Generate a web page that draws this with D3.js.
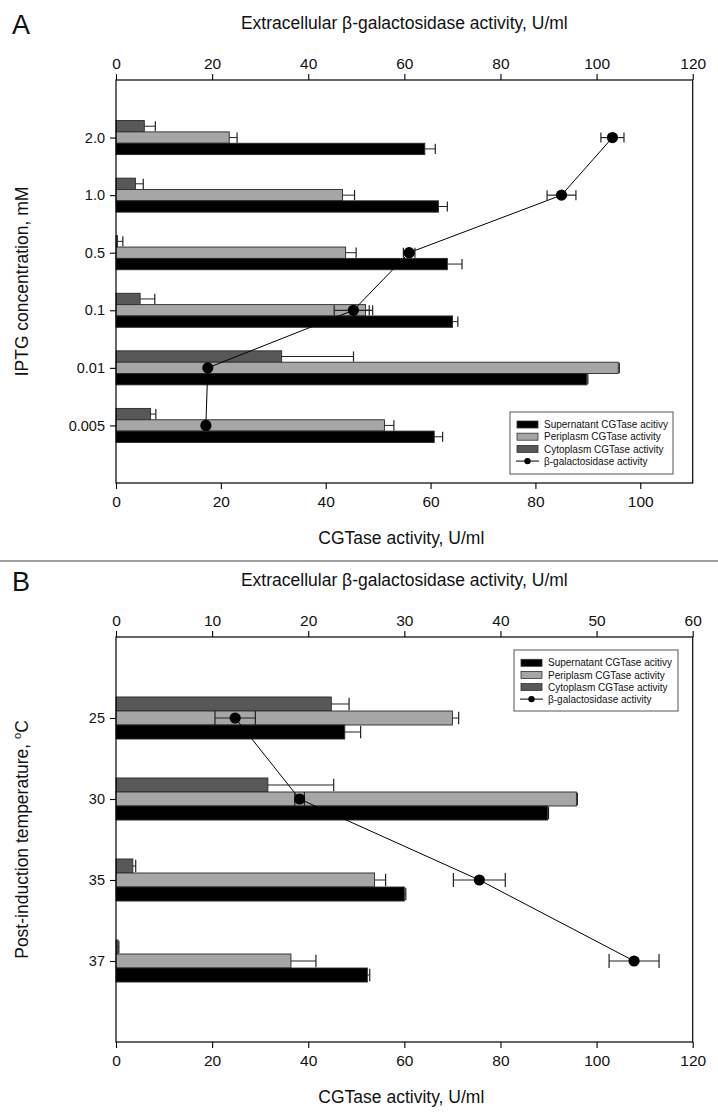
<!DOCTYPE html>
<html><head><meta charset="utf-8">
<script src="https://cdn.jsdelivr.net/npm/d3@7"></script>
<style>body{margin:0;background:#fff} text{font-family:"Liberation Sans",Arial,sans-serif;fill:#111}</style>
</head><body><svg id="c" width="718" height="1112"></svg>
<script>
// ---------- Panel A data ----------
const iptgCats = ["2.0", "1.0", "0.5", "0.1", "0.01", "0.005"];
const supA = [58.9, 61.5, 63.2, 64.2, 89.8, 60.7];
const supErrA = [2.0, 1.7, 2.8, 1.0, 0.2, 1.6];
const periA = [21.6, 43.2, 43.8, 47.6, 95.8, 51.2];
const periErrA = [1.5, 2.3, 2.0, 0.7, 0.2, 1.8];
const cytoA = [5.4, 3.7, 0.3, 4.6, 31.6, 6.6];
const cytoErrA = [2.1, 1.5, 1.0, 2.8, 13.7, 1.0];
const betaA = [103.3, 92.7, 61.0, 49.4, 19.1, 18.7];
const betaErrA = [2.4, 3.0, 1.2, 4.0, 0.5, 0.5];
const topTicksA = [0, 20, 40, 60, 80, 100, 120];
const bottomTicksA = [0, 20, 40, 60, 80, 100];

// ---------- Panel B data ----------
const tempCats = ["25", "30", "35", "37"];
const supB = [47.6, 89.8, 60.0, 52.3];
const supErrB = [3.3, 0.2, 0.3, 0.5];
const periB = [70.0, 95.8, 53.8, 36.4];
const periErrB = [1.3, 0.2, 2.3, 5.2];
const cytoB = [44.8, 31.6, 3.5, 0.4];
const cytoErrB = [3.7, 13.7, 0.6, 0.2];
const betaB = [12.4, 19.1, 37.8, 53.9];
const betaErrB = [2.1, 0.5, 2.7, 2.6];
const topTicksB = [0, 10, 20, 30, 40, 50, 60];
const bottomTicksB = [0, 20, 40, 60, 80, 100, 120];

const legendLabels = ["Supernatant CGTase acitivy", "Periplasm CGTase activity", "Cytoplasm CGTase activity", "\u03B2-galactosidase activity"];
const colors = {sup: "#000000", peri: "#a6a6a6", cyto: "#585858"};

const svg = d3.select("#c");

function panel(cfg) {
  const L = 116, R = 692.7;
  const g = svg.append("g");
  const xBot = d3.scaleLinear().domain(cfg.botDomain).range([L, R]);
  const xTop = d3.scaleLinear().domain(cfg.topDomain).range([L, R]);
  const n = cfg.cats.length;
  const y = d3.scaleLinear().domain([-1, n]).range([cfg.top, cfg.bottom]);
  const step = y(1) - y(0);
  const bh = step * cfg.barFrac;

  // bars: cyto (above), peri (middle), sup (below)
  const series = [
    {vals: cfg.cyto, errs: cfg.cytoErr, col: colors.cyto, off: -1.5},
    {vals: cfg.peri, errs: cfg.periErr, col: colors.peri, off: -0.5},
    {vals: cfg.sup, errs: cfg.supErr, col: colors.sup, off: 0.5}
  ];
  series.forEach(s => {
    const gs = g.append("g");
    gs.selectAll("rect").data(s.vals).join("rect")
      .attr("x", xBot(0))
      .attr("y", (d, i) => y(i) + s.off * bh)
      .attr("width", d => xBot(d) - xBot(0))
      .attr("height", bh)
      .attr("fill", s.col)
      .attr("stroke", "#2a2a2a").attr("stroke-width", 0.9);
    // positive error bars
    s.vals.forEach((d, i) => {
      const yc = y(i) + (s.off + 0.5) * bh;
      const x1 = xBot(d), x2 = xBot(d + s.errs[i]);
      gs.append("line").attr("x1", x1).attr("x2", x2).attr("y1", yc).attr("y2", yc)
        .attr("stroke", "#222").attr("stroke-width", 1);
      gs.append("line").attr("x1", x2).attr("x2", x2).attr("y1", yc - bh * 0.45).attr("y2", yc + bh * 0.45)
        .attr("stroke", "#222").attr("stroke-width", 1.2);
    });
  });

  // beta-gal line + points
  const line = d3.line().x((d, i) => xTop(d)).y((d, i) => y(i));
  g.append("path").attr("d", line(cfg.beta)).attr("fill", "none").attr("stroke", "#000").attr("stroke-width", 1);
  cfg.beta.forEach((d, i) => {
    const yc = y(i);
    const xa = xTop(d - cfg.betaErr[i]), xb = xTop(d + cfg.betaErr[i]);
    g.append("line").attr("x1", xa).attr("x2", xb).attr("y1", yc).attr("y2", yc).attr("stroke", "#222").attr("stroke-width", 1.2);
    [xa, xb].forEach(xx => g.append("line").attr("x1", xx).attr("x2", xx).attr("y1", yc - cfg.capH).attr("y2", yc + cfg.capH).attr("stroke", "#222").attr("stroke-width", 1.2));
  });
  g.selectAll("circle.pt").data(cfg.beta).join("circle")
    .attr("cx", d => xTop(d)).attr("cy", (d, i) => y(i)).attr("r", 5.6).attr("fill", "#000");

  // frame
  g.append("rect").attr("x", L).attr("y", cfg.top).attr("width", R - L).attr("height", cfg.bottom - cfg.top)
    .attr("fill", "none").attr("stroke", "#000").attr("stroke-width", 1.2);

  // axes
  const ax = (sel) => { sel.select(".domain").remove(); sel.selectAll(".tick line").attr("stroke", "#000").attr("stroke-width", 1.1); sel.selectAll("text").attr("font-family", "Liberation Sans, Arial, sans-serif").attr("fill", "#111"); };
  g.append("g").attr("transform", `translate(0,${cfg.top})`)
    .call(d3.axisTop(xTop).tickValues(cfg.topTicks).tickSize(6).tickPadding(5).tickFormat(d3.format("d")))
    .call(ax).selectAll("text").attr("font-size", 15.5);
  g.append("g").attr("transform", `translate(0,${cfg.bottom})`)
    .call(d3.axisBottom(xBot).tickValues(cfg.botTicks).tickSize(6).tickPadding(7).tickFormat(d3.format("d")))
    .call(ax).selectAll("text").attr("font-size", 15.5);
  g.append("g").attr("transform", `translate(${L},0)`)
    .call(d3.axisLeft(y).tickValues(d3.range(n)).tickSize(6).tickPadding(5).tickFormat(i => cfg.cats[i]))
    .call(ax).selectAll("text").attr("font-size", 14.5);

  // titles
  g.append("text").attr("x", 12).attr("y", cfg.top - 46).attr("font-size", 27).text(cfg.letter);
  g.append("text").attr("x", (L + R) / 2).attr("y", cfg.top - 51).attr("text-anchor", "middle").attr("font-size", 17.5)
    .text("Extracellular \u03B2-galactosidase activity, U/ml");
  g.append("text").attr("x", (L + R) / 2 - 3).attr("y", cfg.bottom + 61).attr("text-anchor", "middle").attr("font-size", 17.5)
    .text("CGTase activity, U/ml");
  const yt = g.append("text").attr("transform", `translate(28,${(cfg.top + cfg.bottom) / 2}) rotate(-90)`)
    .attr("text-anchor", "middle").attr("font-size", 17.5);
  if (cfg.sup_o) {
    yt.append("tspan").text(cfg.ytitle);
    yt.append("tspan").attr("dy", -7).attr("font-size", 11).text("o");
    yt.append("tspan").attr("dy", 7).text("C");
  } else yt.text(cfg.ytitle);

  // legend
  const lg = cfg.legend;
  const lgG = g.append("g");
  lgG.append("rect").attr("x", lg.x).attr("y", lg.y).attr("width", lg.w).attr("height", lg.h)
    .attr("fill", "#fff").attr("stroke", "#555").attr("stroke-width", 1);
  const swCols = [colors.sup, colors.peri, colors.cyto];
  legendLabels.forEach((t, i) => {
    const ry = lg.y + lg.first + i * lg.gap;
    if (i < 3) {
      lgG.append("rect").attr("x", lg.x + 7).attr("y", ry - 3.5).attr("width", 21).attr("height", 7)
        .attr("fill", swCols[i]).attr("stroke", "#333").attr("stroke-width", 0.8);
    } else {
      lgG.append("line").attr("x1", lg.x + 6).attr("x2", lg.x + 29).attr("y1", ry).attr("y2", ry).attr("stroke", "#000");
      lgG.append("circle").attr("cx", lg.x + 17.5).attr("cy", ry).attr("r", 3.2).attr("fill", "#000");
    }
    lgG.append("text").attr("x", lg.x + 34).attr("y", ry + 3.6).attr("font-size", lg.fs).text(t);
  });
}

panel({
  letter: "A", cats: iptgCats, top: 80, bottom: 483,
  topDomain: [0, 120], botDomain: [0, 110], topTicks: topTicksA, botTicks: bottomTicksA,
  sup: supA, supErr: supErrA, peri: periA, periErr: periErrA, cyto: cytoA, cytoErr: cytoErrA,
  beta: betaA, betaErr: betaErrA, barFrac: 0.197, capH: 5,
  ytitle: "IPTG concentration, mM",
  legend: {x: 510, y: 412, w: 163, h: 62, first: 12.5, gap: 12.2, fs: 10}
});

svg.append("line").attr("x1", 0).attr("x2", 718).attr("y1", 561).attr("y2", 561).attr("stroke", "#a0a0a0").attr("stroke-width", 2);

panel({
  letter: "B", cats: tempCats, top: 637, bottom: 1042,
  topDomain: [0, 60], botDomain: [0, 120], topTicks: topTicksB, botTicks: bottomTicksB,
  sup: supB, supErr: supErrB, peri: periB, periErr: periErrB, cyto: cytoB, cytoErr: cytoErrB,
  beta: betaB, betaErr: betaErrB, barFrac: 0.173, capH: 7,
  ytitle: "Post-induction temperature, ", sup_o: true,
  legend: {x: 514, y: 650, w: 164, h: 61, first: 12.8, gap: 12.1, fs: 10}
});
</script></body></html>
